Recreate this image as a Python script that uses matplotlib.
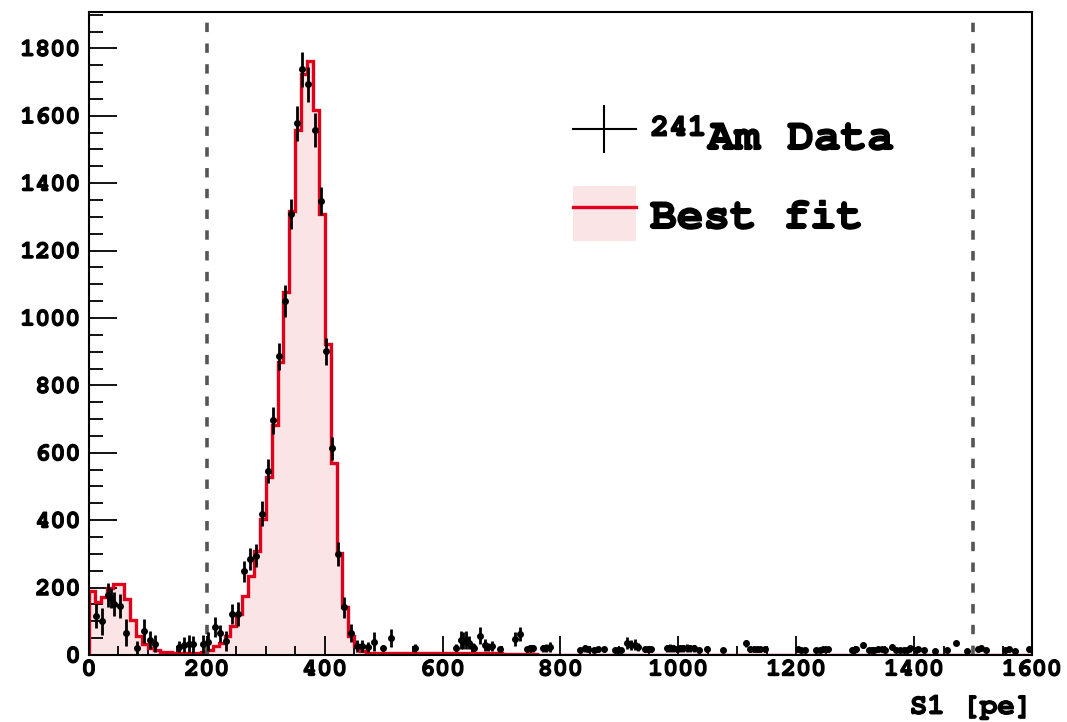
import numpy as np
import matplotlib
matplotlib.use("Agg")
import matplotlib.pyplot as plt
import matplotlib.patheffects as pe
from matplotlib.lines import Line2D
from matplotlib.patches import Patch

plt.rcParams['font.family'] = ['FreeMono', 'Liberation Mono', 'DejaVu Sans']
plt.rcParams['font.weight'] = 'bold'
plt.rcParams['mathtext.fontset'] = 'custom'
plt.rcParams['mathtext.rm'] = 'FreeMono:bold'
plt.rcParams['mathtext.default'] = 'rm'

# best fit histogram, 10 pe bins from 0 to 1600
bin_edges = np.arange(0, 1601, 10)
fit_counts = [
    190, 156, 173, 200, 211, 210, 166, 103, 57, 32,
    20, 14, 10, 8, 7, 6, 6, 6, 7, 8,
    14, 27, 37, 57, 86, 122, 176, 235, 308, 404,
    528, 682, 868, 1078, 1318, 1557, 1725, 1762, 1616, 1308,
    924, 570, 303, 141, 57, 27, 12, 7, 6, 6,
    6, 6, 6, 6, 6, 6, 6, 6, 6, 6,
    6, 6, 6, 6, 6, 5, 5, 5, 5, 5,
    4, 3.5, 3, 2.5, 2, 1.5, 1, 1, 1, 1,
    0.8, 0.8, 0.8, 0.8, 0.8, 0.8, 0.8, 0.8, 0.8, 0.8,
    0.6, 0.6, 0.6, 0.6, 0.6, 0.6, 0.6, 0.6, 0.6, 0.6,
    0.5, 0.5, 0.5, 0.5, 0.5, 0.5, 0.5, 0.5, 0.5, 0.5,
    0.5, 0.5, 0.5, 0.5, 0.5, 0.5, 0.5, 0.5, 0.5, 0.5,
    0.4, 0.4, 0.4, 0.4, 0.4, 0.4, 0.4, 0.4, 0.4, 0.4,
    0.4, 0.4, 0.4, 0.4, 0.4, 0.4, 0.4, 0.4, 0.4, 0.4,
    0.4, 0.4, 0.4, 0.4, 0.4, 0.4, 0.4, 0.4, 0.4, 0.4,
    0.4, 0.4, 0.4, 0.4, 0.4, 0.4, 0.4, 0.4, 0.4, 0.4,
]

# 241Am data points
data_x = [12, 22, 32, 37, 43, 53, 63, 82, 93, 103, 112, 153, 162, 170, 176, 193, 202,
          213, 223, 233, 243, 253, 263, 273, 283, 293, 303, 313, 323, 333, 343, 353,
          362, 372, 383, 393, 402, 413, 423, 433, 444, 455, 464, 473, 484, 498, 512, 553,
          623, 631, 635, 640, 644, 651, 654, 664, 672, 677, 683, 698, 722, 732, 743, 748,
          753, 770, 775, 783, 833, 842, 847, 856, 864, 873, 892, 898, 903, 913, 919, 926,
          932, 943, 948, 954, 980, 985, 991, 997, 1003, 1008, 1015, 1020, 1026, 1035, 1048,
          1076, 1114, 1122, 1128, 1134, 1139, 1147, 1203, 1208, 1214, 1234, 1240, 1246,
          1254, 1294, 1298, 1302, 1314, 1324, 1328, 1332, 1339, 1346, 1350, 1362, 1370,
          1376, 1382, 1388, 1393, 1403, 1407, 1416, 1435, 1455, 1471, 1490, 1509, 1514,
          1522, 1554, 1561, 1571, 1595]
data_y = [116, 100, 178, 168, 152, 146, 66, 22, 72, 45, 33, 25, 30, 33, 32, 33, 40,
          84, 65, 42, 121, 121, 248, 285, 295, 419, 546, 697, 886, 1050, 1308, 1578,
          1738, 1693, 1557, 1348, 901, 613, 300, 141, 66, 27, 27, 25, 40, 20, 50, 20,
          22, 45, 42, 45, 37, 25, 22, 57, 29, 25, 27, 17, 47, 62, 17, 20,
          20, 20, 22, 25, 15, 20, 17, 15, 17, 17, 15, 15, 15, 35, 30, 31,
          25, 17, 17, 17, 20, 22, 20, 17, 20, 20, 22, 20, 20, 15, 17,
          15, 35, 17, 17, 17, 17, 17, 17, 15, 15, 15, 15, 17,
          17, 15, 15, 17, 29, 15, 15, 15, 17, 17, 15, 25, 15,
          15, 15, 15, 20, 15, 17, 15, 12, 15, 37, 12, 17, 22,
          15, 15, 17, 12, 17]
data_err = [35, 40, 37, 30, 35, 35, 40, 20, 35, 27, 25, 17, 22, 25, 25, 27, 28,
            30, 25, 30, 30, 35, 32, 32, 35, 37, 37, 40, 40, 47, 45, 52,
            52, 52, 50, 42, 40, 35, 35, 32, 27, 17, 17, 15, 27, 8, 27, 12,
            10, 27, 25, 27, 20, 12, 10, 25, 17, 12, 15, 8, 20, 20, 8, 10,
            10, 10, 12, 15, 6, 10, 8, 6, 8, 8, 6, 6, 6, 17, 15, 17,
            12, 8, 8, 8, 10, 12, 10, 8, 10, 10, 12, 10, 10, 6, 8,
            6, 10, 8, 8, 8, 8, 8, 8, 6, 6, 6, 6, 8,
            8, 6, 6, 8, 8, 6, 6, 6, 8, 8, 6, 8, 6,
            6, 6, 6, 10, 6, 8, 6, 4, 6, 4, 4, 8, 8,
            6, 6, 6, 4, 8]

cut_positions = [200, 1500]

red = '#e0001b'
pink = '#fae4e6'
thick = [pe.withStroke(linewidth=0.9, foreground='black')]

fig = plt.figure(figsize=(10.67, 7.22), dpi=100)
ax = fig.add_axes([0.0834, 0.0928, 0.8838, 0.8906])

ax.stairs(fit_counts, bin_edges, fill=True, color=pink, zorder=1)
ax.stairs(fit_counts, bin_edges, color=red, lw=2.4, zorder=2)
for xc in cut_positions:
    ax.axvline(xc, color='#555555', lw=2.6, ls=(0, (2.6, 3.15)), zorder=2.5)
ax.errorbar(data_x, data_y, yerr=data_err, fmt='o', ms=4, color='black',
            elinewidth=2.0, capsize=0, zorder=3)

ax.set_xlim(0, 1600)
ax.set_ylim(0, 1908)
ax.set_xticks(np.arange(0, 1601, 200))
ax.set_xticks(np.arange(0, 1601, 50), minor=True)
ax.set_yticks(np.arange(0, 1801, 200))
ax.set_yticks(np.arange(0, 1901, 50), minor=True)
ax.tick_params(axis='x', which='major', direction='in', length=13.7, width=1.3,
               labelsize=18, pad=4)
ax.tick_params(axis='x', which='minor', direction='in', length=6.5, width=1.3)
ax.tick_params(axis='y', which='major', direction='in', length=20, width=1.3,
               labelsize=18, pad=6)
ax.tick_params(axis='y', which='minor', direction='in', length=10, width=1.3)
for sp in ax.spines.values():
    sp.set_linewidth(1.5)
for lab in ax.get_xticklabels() + ax.get_yticklabels():
    lab.set_path_effects(thick)

xl = ax.set_xlabel('S1 [pe]', loc='right', fontsize=21, fontweight='bold', labelpad=11)
xl.set_path_effects(thick)

data_handle = (Line2D([], [], color='black', lw=1.5),
               Line2D([], [], color='black', marker='|', ms=35, mew=1.5, ls='none'))
fit_handle = (Patch(facecolor=pink, edgecolor='none'),
              Line2D([], [], color=red, lw=2.4))
leg = ax.legend([data_handle, fit_handle], [r'$^{241}$Am Data', 'Best fit'],
                loc='upper left', bbox_to_anchor=(0.513, 0.851), frameon=False,
                fontsize=32, handlelength=1.42, handleheight=1.5, handletextpad=0.32,
                labelspacing=0.55, borderpad=0, borderaxespad=0)
for t in leg.get_texts():
    t.set_path_effects([pe.withStroke(linewidth=1.2, foreground='black')])

fig.savefig('out.png', dpi=100)
